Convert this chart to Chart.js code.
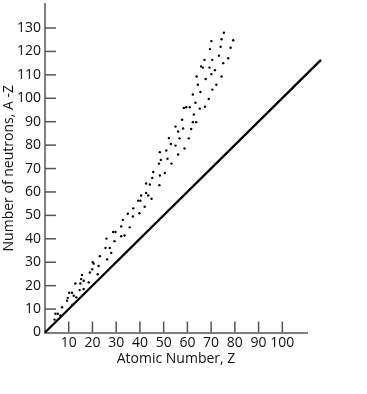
<!DOCTYPE html>
<html><head><meta charset="utf-8">
<script src="https://cdn.jsdelivr.net/npm/chart.js@4/dist/chart.umd.min.js"></script>
<style>html,body{margin:0;padding:0;background:#fff;overflow:hidden}#wrap{width:367px;height:394px;position:relative}</style>
</head><body><div id="wrap"><canvas id="c"></canvas></div>
<script>
// Atomic number Z of each plotted nucleus
const atomicNumber = [4.0,4.4,5.4,6.5,7.2,9.3,9.6,10.2,11.4,11.6,
 12.1,13.2,12.8,14.9,15.2,15.6,16.3,14.6,16.3,18.4,
 18.9,19.9,20.1,20.5,22.2,22.6,23.1,25.5,25.9,26.2,
 27.3,27.9,28.7,29.7,29.3,32.1,32.1,32.8,33.5,34.9,
 35.7,37.2,37.0,39.8,39.3,40.2,40.5,42.0,42.6,43.5,
 44.9,42.6,44.2,45.2,45.6,48.2,48.4,50.5,48.0,48.8,
 48.4,51.1,51.6,53.3,52.2,53.0,55.0,56.1,55.0,56.1,
 57.8,58.2,58.5,58.8,59.5,61.0,62.3,62.7,62.3,63.7,
 63.4,63.9,64.4,65.2,65.5,65.8,66.5,67.2,67.4,67.7,
 69.0,69.3,69.5,70.1,70.1,70.5,70.5,71.6,72.2,73.3,
 74.0,74.4,74.4,75.1,75.4,77.2,78.2,79.3,61.6,56.7,
 60.6];
// Neutron number N = A - Z of each plotted nucleus
const neutronNumber = [5.5,8.0,8.0,7.3,10.8,13.6,14.8,17.0,17.0,11.9,
 15.7,15.0,20.9,20.9,22.8,24.6,22.1,18.1,18.6,21.4,
 25.6,27.0,30.0,29.4,24.9,28.4,32.6,36.1,40.1,31.2,
 36.1,34.0,42.9,42.9,39.0,41.1,45.3,48.1,41.4,50.7,
 44.9,53.0,49.5,50.9,56.3,56.3,58.5,53.7,59.6,58.5,
 57.1,63.6,63.2,66.0,68.5,62.9,67.0,68.1,72.1,73.7,
 77.0,77.7,74.2,72.1,83.0,80.5,79.8,76.0,87.9,85.8,
 90.8,87.1,95.9,78.6,96.2,96.2,101.6,93.1,89.8,89.8,
 98.1,109.3,105.8,95.6,102.7,113.6,113.1,116.4,96.4,108.2,
 99.7,113.1,121.0,124.4,110.3,116.4,103.7,112.0,105.8,118.2,
 122.0,125.2,109.3,115.0,128.0,117.1,121.6,124.8,86.9,82.9,
 82.9];
// N = Z reference line
const diagonalZ = [0, 116.3];
const diagonalN = [0, 116.4];
const xTickValues = [10,20,30,40,50,60,70,80,90,100];
const yTickValues = [0,10,20,30,40,50,60,70,80,90,100,110,120,130];
const xAxisTitle = 'Atomic Number, Z';
const yAxisTitle = 'Number of neutrons, A -Z';

const FONT = "'Open Sans', sans-serif";

const inwardTicks = {
  id: 'inwardTicks',
  afterDraw(chart) {
    const {ctx, chartArea: a, scales: {x, y}} = chart;
    ctx.save();
    ctx.strokeStyle = '#555';
    ctx.lineWidth = 1.5;
    x.ticks.forEach(t => {
      const px = x.getPixelForValue(t.value);
      ctx.beginPath(); ctx.moveTo(px, a.bottom); ctx.lineTo(px, a.bottom - 11); ctx.stroke();
    });
    y.ticks.forEach(t => {
      if (t.value === 0) return;
      const py = y.getPixelForValue(t.value);
      ctx.beginPath(); ctx.moveTo(a.left, py); ctx.lineTo(a.left + 11, py); ctx.stroke();
    });
    ctx.restore();
  }
};

new Chart(document.getElementById('c'), {
  data: {
    datasets: [
      {
        type: 'scatter',
        data: atomicNumber.map((z, i) => ({x: z, y: neutronNumber[i]})),
        pointRadius: 1.2,
        pointBackgroundColor: '#000',
        pointBorderWidth: 0,
        order: 1
      },
      {
        type: 'line',
        data: diagonalZ.map((z, i) => ({x: z, y: diagonalN[i]})),
        borderColor: '#000',
        borderWidth: 2.3,
        pointRadius: 0,
        clip: false,
        order: 2
      }
    ]
  },
  options: {
    responsive: true,
    maintainAspectRatio: false,
    animation: false,
    devicePixelRatio: 1,
    layout: {padding: {top: 0, right: 60, bottom: 0, left: 0}},
    plugins: {legend: {display: false}, tooltip: {enabled: false}},
    scales: {
      x: {
        type: 'linear', min: 0, max: 110.4,
        grid: {display: false, drawTicks: false},
        border: {display: true, color: '#808080', width: 2},
        afterBuildTicks: s => { s.ticks = xTickValues.map(v => ({value: v})); },
        afterFit: s => { s.height = 61.5; },
        ticks: {color: '#111', font: {family: FONT, size: 14}, padding: 2, autoSkip: false, maxRotation: 0},
        title: {display: true, text: xAxisTitle, color: '#111', font: {family: FONT, size: 14}, padding: {top: 0, bottom: 27}}
      },
      y: {
        type: 'linear', min: 0, max: 140.25,
        grid: {display: false, drawTicks: false},
        border: {display: true, color: '#808080', width: 2},
        afterBuildTicks: s => { s.ticks = yTickValues.map(v => ({value: v})); },
        afterFit: s => { s.width = 45; s.paddingTop = 0; s.paddingBottom = 0; },
        ticks: {color: '#111', font: {family: FONT, size: 14}, padding: 4, autoSkip: false},
        title: {display: true, text: yAxisTitle, color: '#111', font: {family: FONT, size: 14}, padding: {top: 1, bottom: 0}}
      }
    }
  },
  plugins: [inwardTicks]
});
</script>
</body></html>
